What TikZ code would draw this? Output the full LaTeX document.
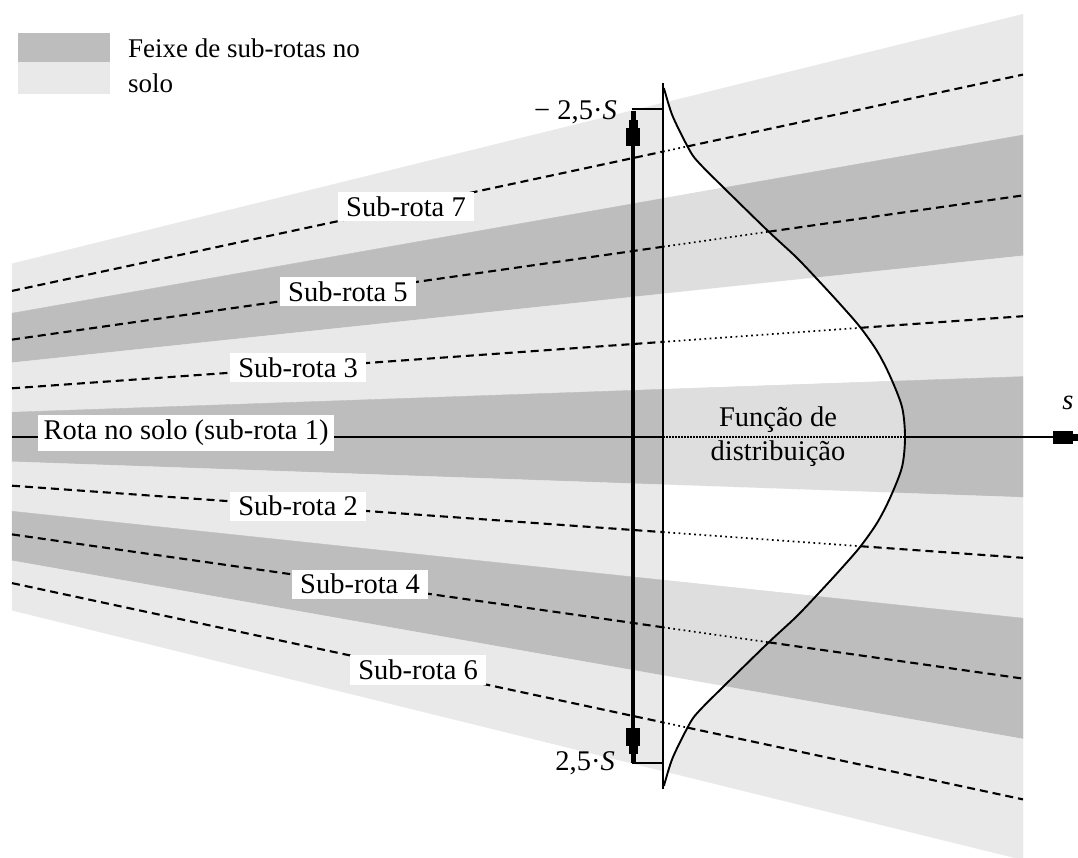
\documentclass[tikz,border=0pt]{standalone}
\usepackage{fontspec}
\setmainfont{Liberation Serif}
\usetikzlibrary{calc,intersections,arrows.meta}
\definecolor{bandDark}{gray}{0.74}
\definecolor{bandLight}{gray}{0.915}
\definecolor{inDark}{gray}{0.87}
\tikzset{
 lbl/.style={fill=white, inner xsep=8pt, inner ysep=4.5pt, font=\fontsize{28.5}{34}\selectfont},
 txt/.style={font=\fontsize{28.5}{34}\selectfont},
 subdash/.style={line width=2.1pt, dash pattern=on 8pt off 5pt},
 subdot/.style={line width=1.7pt, dash pattern=on 1.7pt off 3.5pt},
 axisline/.style={line width=2.2pt},
 axisdot/.style={line width=1.7pt, dash pattern=on 1.5pt off 1.5pt},
 axisarrow/.style={arrows={-{Rectangle[length=20pt,width=13pt] Rectangle[length=5pt,width=7pt]}}},
 dblarrow/.style={arrows={{Rectangle[length=9pt,width=5pt] Rectangle[length=8pt,width=9pt] Rectangle[length=18pt,width=14pt]}-{Rectangle[length=18pt,width=14pt] Rectangle[length=8pt,width=9pt] Rectangle[length=9pt,width=5pt]}}},
 distline/.style={line width=2.2pt},
 curveline/.style={line width=1.9pt},
 tick/.style={line width=2.6pt},
}
\begin{document}
\begin{tikzpicture}[x=1pt,y=-1pt]
\useasboundingbox (0,0) rectangle (1078,857);
% fan of bands
\foreach \k/\c in {-3/bandLight,-2/bandDark,-1/bandLight,0/bandDark,1/bandLight,2/bandDark,3/bandLight}{
  \fill[\c, draw=\c, line width=0.4pt] (12,{437+(\k-0.5)*49.5}) -- (1023,{437+(\k-0.5)*120.8}) -- (1023,{437+(\k+0.5)*120.8}) -- (12,{437+(\k+0.5)*49.5}) -- cycle;
}
% inside the distribution function
\begin{scope}
\clip (663,84) -- plot[smooth, tension=0.5] coordinates {(664,88) (665,92) (673,117) (690,151) (700,164) (725,189) (768,231) (796,257) (817,279) (840,304) (860,327) (877,351) (890,376) (902,407) (905,437) (902,467) (890,498) (877,523) (860,547) (840,570) (817,595) (796,617) (768,643) (725,685) (700,710) (690,723) (673,757) (665,782) (664,786)} -- (663,789) -- cycle;
\foreach \k/\c in {-3/white,-2/inDark,-1/white,0/inDark,1/white,2/inDark,3/white}{
  \fill[\c, draw=\c, line width=0.4pt] (12,{437+(\k-0.5)*49.5}) -- (1023,{437+(\k-0.5)*120.8}) -- (1023,{437+(\k+0.5)*120.8}) -- (12,{437+(\k+0.5)*49.5}) -- cycle;
}
\end{scope}
% legend
\fill[bandDark] (18,33) rectangle (110,62);
\fill[bandLight] (18,62) rectangle (110,94);
\node[txt, anchor=base west, inner sep=0pt, font=\fontsize{27}{34}\selectfont] (leg1) at (128,57) {Feixe de sub-rotas no};
\node[txt, anchor=base west, inner sep=0pt, font=\fontsize{27}{34}\selectfont] (leg2) at (128,92) {solo};
% distribution curve
\coordinate (dtop) at (663,83);
\coordinate (dbot) at (663,789);
\draw[curveline, name path=curve] plot[smooth, tension=0.5] coordinates {(664,88) (665,92) (673,117) (690,151) (700,164) (725,189) (768,231) (796,257) (817,279) (840,304) (860,327) (877,351) (890,376) (902,407) (905,437) (902,467) (890,498) (877,523) (860,547) (840,570) (817,595) (796,617) (768,643) (725,685) (700,710) (690,723) (673,757) (665,782) (664,786)};
\draw[distline] (dtop) -- (dbot);
% sub-routes
\foreach \k/\lab/\p in {-3/7/0.3897,-2/5/0.3323,-1/3/0.2829,1/2/0.2829,2/4/0.3442,3/6/0.4016}{
  \coordinate (L\lab) at (12,{437+\k*48.7});
  \coordinate (R\lab) at (1023,{437+\k*120.8});
  \coordinate (A\lab) at ($(L\lab)!0.64392!(R\lab)$);
  \path[name path=ln] (L\lab) -- (R\lab);
  \path[name intersections={of=curve and ln, by={B\lab}}];
  \draw[subdash] (L\lab) -- (A\lab);
  \draw[subdot] (A\lab) -- (B\lab);
  \draw[subdash] (B\lab) -- (R\lab);
  \path (L\lab) -- (R\lab) node[lbl, pos=\p] (lab\lab) {Sub-rota \lab};
}
% ground route axis
\coordinate (axL) at (12,437);
\coordinate (axA) at (663,437);
\coordinate (peak) at (905,437);
\coordinate (axR) at (1078,437);
\draw[axisline] (axL) -- (axA);
\draw[axisdot] (axA) -- (peak);
\draw[axisline, axisarrow] (peak) -- (axR);
\node[lbl, inner ysep=5.5pt, inner xsep=6pt] (rota) at (186,433) {Rota no solo (sub-rota 1)};
\node[txt, align=center] (func) at (778,437) {Função de\\distribuição};
\node[txt, font=\fontsize{28.5}{34}\selectfont\itshape] (sax) at (1068,403) {s};
% +-2.5 S range arrow
\coordinate (vt) at (633,111);
\coordinate (vb) at (633,763);
\coordinate (tkT) at (631.5,109);
\coordinate (tkTr) at (663,109);
\coordinate (tkB) at (631.5,763);
\coordinate (tkBr) at (663,763);
\draw[line width=3.3pt, dblarrow] (vt) -- (vb);
\draw[tick] (tkT) -- (tkTr);
\draw[tick] (tkB) -- (tkBr);
\node[txt, anchor=east, inner sep=0pt] (mlab) at (617,112) {− 2,5·\textit{S}};
\node[txt, anchor=east, inner sep=0pt] (plab) at (615,763) {2,5·\textit{S}};
\end{tikzpicture}
\end{document}
